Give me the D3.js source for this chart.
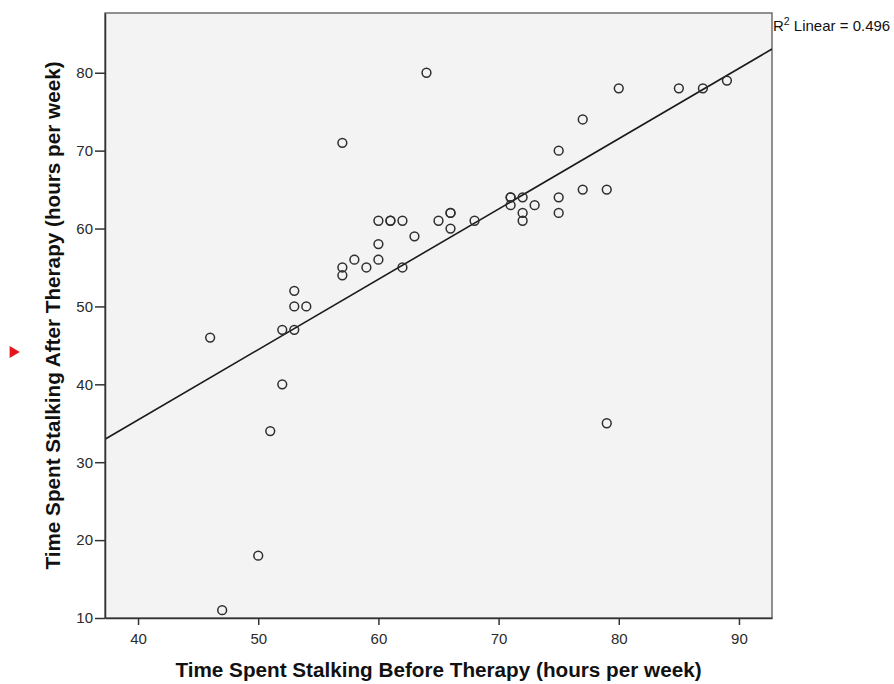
<!DOCTYPE html>
<html>
<head>
<meta charset="utf-8">
<script src="https://cdn.jsdelivr.net/npm/d3@7"></script>
<style>
  body { margin: 0; background: #fff; }
  .tick text { font-family: "Liberation Sans", Arial, sans-serif; font-size: 15px; fill: #2a2a2a; }
  .label { font-family: "Liberation Sans", Arial, sans-serif; font-weight: bold; font-size: 20.7px; fill: #111; }
</style>
</head>
<body>
<svg id="chart" width="894" height="684"></svg>
<script>
"use strict"

// hours per week, one entry per person
var beforeHours = [46, 47, 50, 51, 52, 52, 53, 53, 53, 54, 57, 57, 57, 58, 59, 60, 60, 60, 61, 61,
    62, 62, 63, 64, 65, 66, 66, 66, 68, 71, 71, 71, 72, 72, 72, 73, 75, 75, 75, 77, 77, 79, 79,
    80, 85, 87, 89];
var afterHours = [46, 11, 18, 34, 40, 47, 47, 50, 52, 50, 71, 55, 54, 56, 55, 56, 58, 61, 61, 61,
    61, 55, 59, 80, 61, 62, 62, 60, 61, 64, 64, 63, 64, 62, 61, 63, 70, 64, 62, 74, 65, 65, 35,
    78, 78, 78, 79];

var xTicks = [40, 50, 60, 70, 80, 90];
var yTicks = [10, 20, 30, 40, 50, 60, 70, 80];
var xDomain = [37.25, 92.75];
var yDomain = [10, 87.67];

var xTitle = "Time Spent Stalking Before Therapy (hours per week)";
var yTitle = "Time Spent Stalking After Therapy (hours per week)";
var fitLabel = "0.496";

var margin = { top: 13, right: 122, bottom: 66, left: 105 };

var svg = d3.select("#chart"),
    width = +svg.attr("width") - margin.left - margin.right,
    height = +svg.attr("height") - margin.top - margin.bottom;

var x = d3.scaleLinear().domain(xDomain).range([0, width]);
var y = d3.scaleLinear().domain(yDomain).range([height, 0]);

var g = svg.append("g")
    .attr("transform", "translate(" + margin.left + "," + margin.top + ")");

g.append("rect")
    .attr("width", width)
    .attr("height", height)
    .attr("fill", "#f3f3f3")
    .attr("stroke", "#6e6e6e")
    .attr("stroke-width", 1.5);

var points = beforeHours.map(function(b, i) { return { x: b, y: afterHours[i] }; });

// least squares fit line
var mx = d3.mean(points, d => d.x),
    my = d3.mean(points, d => d.y);
var sxy = d3.sum(points, d => (d.x - mx) * (d.y - my)),
    sxx = d3.sum(points, d => (d.x - mx) * (d.x - mx));
var slope = sxy / sxx,
    intercept = my - slope * mx;

g.append("clipPath")
    .attr("id", "plotclip")
    .append("rect")
    .attr("width", width)
    .attr("height", height);

g.append("line")
    .attr("clip-path", "url(#plotclip)")
    .attr("x1", x(xDomain[0]))
    .attr("y1", y(intercept + slope * xDomain[0]))
    .attr("x2", x(xDomain[1]))
    .attr("y2", y(intercept + slope * xDomain[1]))
    .attr("stroke", "#1a1a1a")
    .attr("stroke-width", 1.6);

g.selectAll("circle.pt")
    .data(points)
    .enter().append("circle")
    .attr("class", "pt")
    .attr("cx", d => x(d.x))
    .attr("cy", d => y(d.y))
    .attr("r", 4.4)
    .attr("fill", "none")
    .attr("stroke", "#2e2e2e")
    .attr("stroke-width", 1.5);

var xAxis = g.append("g")
    .attr("transform", "translate(0," + height + ")")
    .call(d3.axisBottom(x).tickValues(xTicks).tickSizeInner(7).tickSizeOuter(0).tickPadding(8));
var yAxis = g.append("g")
    .call(d3.axisLeft(y).tickValues(yTicks).tickSizeInner(10).tickSizeOuter(0).tickPadding(2));

[xAxis, yAxis].forEach(function(a) {
    a.select(".domain").attr("stroke", "#333").attr("stroke-width", 1.5);
    a.selectAll(".tick line").attr("stroke", "#333").attr("stroke-width", 1.5);
});

g.append("text")
    .attr("class", "label")
    .attr("text-anchor", "middle")
    .attr("x", width / 2)
    .attr("y", height + 59)
    .text(xTitle);

g.append("text")
    .attr("class", "label")
    .attr("text-anchor", "middle")
    .attr("transform", "rotate(-90)")
    .attr("x", -height / 2)
    .attr("y", -45)
    .text(yTitle);

var r2 = g.append("text")
    .attr("x", width + 1)
    .attr("y", 18)
    .style("font-family", "Liberation Sans, Arial, sans-serif")
    .style("font-size", "15px")
    .attr("fill", "#111");
r2.append("tspan").text("R");
r2.append("tspan").attr("baseline-shift", "super").style("font-size", "10.5px").text("2");
r2.append("tspan").text(" Linear = " + fitLabel);

// little red marker at the left edge
svg.append("path")
    .attr("d", d3.symbol().type(d3.symbolTriangle).size(60)())
    .attr("transform", "translate(13,352) rotate(90)")
    .attr("fill", "#e8141b");
</script>
</body>
</html>
